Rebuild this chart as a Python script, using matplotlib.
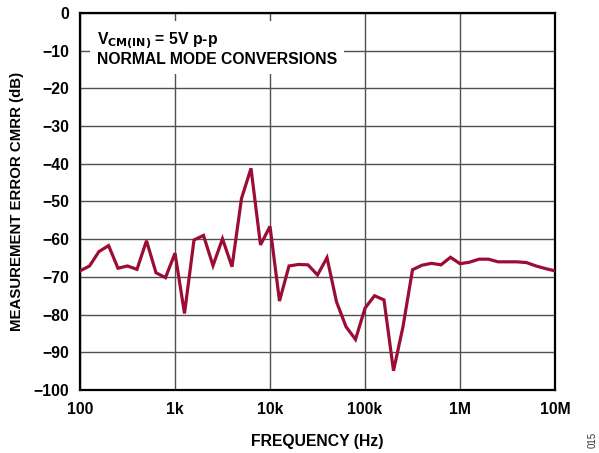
import matplotlib.pyplot as plt

# frequency points (Hz), 10 per decade
FREQ_HZ = [
    100, 126, 158, 200, 251, 316, 398, 501, 631, 794,
    1000, 1259, 1585, 1995, 2512, 3162, 3981, 5012, 6310, 7943,
    10000, 12589, 15849, 19953, 25119, 31623, 39811, 50119, 63096, 79433,
    100000, 125893, 158489, 199526, 251189, 316228, 398107, 501187, 630957, 794328,
    1000000, 1258925, 1584893, 1995262, 2511886, 3162278, 3981072, 5011872, 6309573, 7943282,
    10000000,
]
# measurement error CMRR (dB)
CMRR_DB = [
    -68.4, -67.1, -63.3, -61.7, -67.7, -67.1, -68.0, -60.4, -68.9, -70.2,
    -63.7, -79.7, -60.2, -59.0, -67.0, -59.9, -67.3, -49.2, -41.2, -61.5,
    -56.6, -76.4, -67.1, -66.7, -66.8, -69.5, -64.9, -76.6, -83.2, -86.6,
    -78.3, -75.0, -76.1, -94.9, -83.2, -68.1, -66.9, -66.4, -66.8, -64.8,
    -66.5, -66.1, -65.3, -65.3, -66.0, -66.0, -66.0, -66.2, -67.1, -67.8,
    -68.4,
]

X_TICKS = [1e2, 1e3, 1e4, 1e5, 1e6, 1e7]
X_LABELS = ["100", "1k", "10k", "100k", "1M", "10M"]
Y_TICKS = list(range(-100, 1, 10))
Y_LABELS = ["0" if v == 0 else "\u2212" + str(-v) for v in Y_TICKS]

FS = 11.3

plt.rcParams["font.family"] = ["Liberation Sans", "DejaVu Sans"]
plt.rcParams["font.weight"] = "bold"

fig = plt.figure(figsize=(5.99, 4.53), dpi=100)
ax = fig.add_axes([80 / 599, 63 / 453, 475 / 599, 377 / 453])

ax.plot(FREQ_HZ, CMRR_DB, color="#9b0d35", linewidth=2.3, zorder=3,
        solid_joinstyle="miter")

ax.set_xscale("log")
ax.set_xlim(1e2, 1e7)
ax.set_ylim(-100, 0)
ax.set_xticks(X_TICKS)
ax.set_xticklabels(X_LABELS)
ax.minorticks_off()
ax.set_yticks(Y_TICKS)
ax.set_yticklabels(Y_LABELS)
ax.tick_params(axis="y", length=0, labelsize=FS, pad=8)
ax.tick_params(axis="x", length=0, labelsize=FS, pad=9)
for lbl in ax.get_xticklabels() + ax.get_yticklabels():
    lbl.set_fontweight("bold")

ax.grid(True, color="#505050", linewidth=1.0, zorder=1)
for sp in ax.spines.values():
    sp.set_linewidth(1.6)
    sp.set_color("black")

ax.set_xlabel("FREQUENCY (Hz)", fontsize=FS, fontweight="bold", labelpad=12)
ax.set_ylabel("MEASUREMENT ERROR CMRR (dB)", fontsize=10.8, fontweight="bold",
              labelpad=7)

# annotation box, placed in figure pixels (top-left at about x=97, y=40)
ax.text(97 / 599, 1 - 49 / 453,
        "V$_{\\mathbf{CM(IN)}}$ = 5V p-p\nNORMAL MODE CONVERSIONS",
        transform=fig.transFigure, fontsize=FS, fontweight="bold",
        va="center", linespacing=0.95,
        bbox=dict(facecolor="white", edgecolor="none", pad=5), zorder=4)

fig.text(593 / 599, 1 - 440 / 453, "015", rotation=90, fontsize=7,
         fontweight="normal", ha="center", va="center", color="#333333")

fig.savefig("out.png", dpi=100)
